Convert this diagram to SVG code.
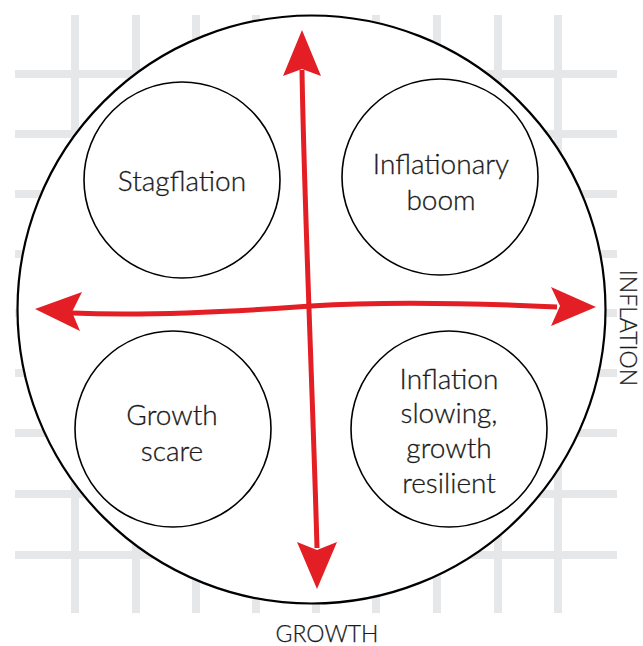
<svg xmlns="http://www.w3.org/2000/svg" width="643" height="646" viewBox="0 0 643 646">
<defs>
<style>
.grid line{stroke:#e6e7e8;stroke-width:8}
.big{fill:#fff;stroke:#000;stroke-width:2.2}
.node ellipse{fill:#fff;stroke:#000;stroke-width:1.6}
.lbl{font-family:Lato,"Open Sans",sans-serif;font-weight:300;font-size:28px;fill:#1a1a1a;stroke:#1a1a1a;stroke-width:0.3;text-anchor:middle}
.axis{font-family:Lato,"Open Sans",sans-serif;font-weight:300;font-size:23px;fill:#1a1a1a;stroke:#1a1a1a;stroke-width:0.25;text-anchor:middle}
.arr{fill:none;stroke:#e31e24;stroke-width:5}
.head{fill:#e31e24}
</style>
</defs>
<rect width="643" height="646" fill="#fff"/>
<g class="grid">
<line x1="15" y1="74" x2="617" y2="74"/>
<line x1="15" y1="134" x2="617" y2="134"/>
<line x1="15" y1="194" x2="617" y2="194"/>
<line x1="15" y1="254" x2="617" y2="254"/>
<line x1="15" y1="313" x2="617" y2="313"/>
<line x1="15" y1="373" x2="617" y2="373"/>
<line x1="15" y1="433" x2="617" y2="433"/>
<line x1="15" y1="494" x2="617" y2="494"/>
<line x1="15" y1="555" x2="617" y2="555"/>
<line x1="75" y1="15" x2="75" y2="613"/>
<line x1="136" y1="15" x2="136" y2="613"/>
<line x1="196" y1="15" x2="196" y2="613"/>
<line x1="256" y1="15" x2="256" y2="613"/>
<line x1="316" y1="15" x2="316" y2="613"/>
<line x1="376" y1="15" x2="376" y2="613"/>
<line x1="437" y1="15" x2="437" y2="613"/>
<line x1="498" y1="15" x2="498" y2="613"/>
<line x1="558" y1="15" x2="558" y2="613"/>
</g>
<circle class="big" cx="311.5" cy="309.5" r="294"/>
<g id="stagflation" class="node">
<ellipse cx="182" cy="180" rx="98" ry="98"/>
<text class="lbl" x="182" y="191">Stagflation</text>
</g>
<g id="inflationary-boom" class="node">
<ellipse cx="440" cy="177" rx="98" ry="98"/>
<text class="lbl" x="441" y="174">Inflationary</text>
<text class="lbl" x="441" y="210">boom</text>
</g>
<g id="growth-scare" class="node">
<ellipse cx="173" cy="429" rx="98" ry="98"/>
<text class="lbl" x="172" y="425">Growth</text>
<text class="lbl" x="172" y="461">scare</text>
</g>
<g id="inflation-slowing" class="node">
<ellipse cx="449" cy="429" rx="98" ry="98"/>
<text class="lbl" x="449" y="389">Inflation</text>
<text class="lbl" x="449" y="423">slowing,</text>
<text class="lbl" x="449" y="458">growth</text>
<text class="lbl" x="449" y="493">resilient</text>
</g>
<g id="connectors">
<path class="arr" d="M302,70 C304,200 313,400 317,548"/>
<polygon class="head" points="302,30 321,76 302,69 283,76"/>
<polygon class="head" points="317,589 297,542 317,550 337,542"/>
<path class="arr" d="M72,313 C150,316 230,312 311,306 C390,301 470,303 557,307"/>
<polygon class="head" points="35,309 82,292 72,312 80,331"/>
<polygon class="head" points="596,307 551,287 560,306 551,326"/>
</g>
<text class="axis" x="327" y="642">GROWTH</text>
<text class="axis" transform="translate(620,328) rotate(90)">INFLATION</text>
</svg>
